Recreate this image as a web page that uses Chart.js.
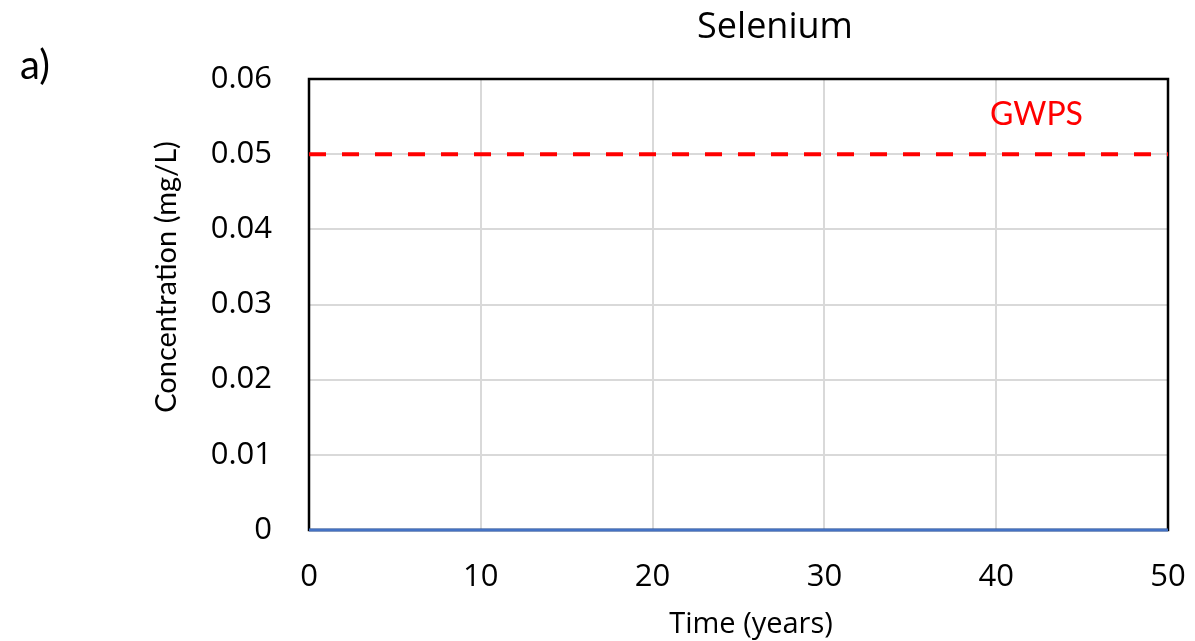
<!DOCTYPE html>
<html>
<head>
<meta charset="utf-8">
<script src="https://cdn.jsdelivr.net/npm/chart.js@4.4.1/dist/chart.umd.min.js"></script>
<style>
  html, body { margin: 0; padding: 0; background: #fff; }
  #conc { display: block; }
</style>
</head>
<body>
<canvas id="conc" width="1195" height="641"></canvas>
<script>
// time axis (years) and modelled selenium concentration (mg/L)
var years = [0, 10, 20, 30, 40, 50];
var selenium = [0, 0, 0, 0, 0, 0];

// groundwater protection standard
var gwpsYears = [0, 50];
var gwpsValue = [0.05, 0.05];

var xTicks = [0, 10, 20, 30, 40, 50];
var yTicks = [0, 0.01, 0.02, 0.03, 0.04, 0.05, 0.06];

function pares(xs, ys) {
    var out = [];
    for (var i = 0; i < xs.length; i++) {
        out.push({ x: xs[i], y: ys[i] });
    }
    return out;
}

// black frame round the plot area, under the data lines
var marco = {
    id: 'marco',
    beforeDatasetsDraw: function (chart) {
        var a = chart.chartArea;
        var ctx = chart.ctx;
        ctx.save();
        ctx.strokeStyle = '#000';
        ctx.lineWidth = 2.5;
        ctx.strokeRect(a.left, a.top, a.right - a.left, a.bottom - a.top);
        ctx.restore();
    }
};

// panel letter, titles and the GWPS label
var textos = {
    id: 'textos',
    afterDraw: function (chart) {
        var ctx = chart.ctx;
        ctx.save();
        ctx.fillStyle = '#000';
        ctx.textBaseline = 'alphabetic';

        ctx.font = '40px Lato';
        ctx.textAlign = 'left';
        ctx.fillText('a)', 20, 79);

        ctx.font = '36px "Open Sans"';
        ctx.textAlign = 'center';
        ctx.fillText('Selenium', 775, 38);

        ctx.font = '29px "Open Sans"';
        ctx.fillText('Time (years)', 751, 633);

        ctx.save();
        ctx.translate(176, 277);
        ctx.rotate(-Math.PI / 2);
        ctx.font = '29px Lato';
        ctx.fillText('Concentration (mg/L)', 0, 0);
        ctx.restore();

        ctx.fillStyle = '#ff0000';
        ctx.font = '32px Lato';
        ctx.textAlign = 'left';
        ctx.fillText('GWPS', 990, 125);
        ctx.restore();
    }
};

var chart_se = new Chart(document.getElementById('conc').getContext('2d'), {
    type: 'line',
    data: {
        datasets: [{
            label: 'Selenium',
            data: pares(years, selenium),
            borderColor: '#4472c4',
            borderWidth: 3,
            pointRadius: 0,
            fill: false,
            clip: false,
        }, {
            label: 'GWPS',
            data: pares(gwpsYears, gwpsValue),
            borderColor: '#ff0000',
            borderWidth: 4,
            borderDash: [17, 16],
            pointRadius: 0,
            fill: false,
        }]
    },
    options: {
        responsive: false,
        animation: false,
        layout: { padding: { left: 0, right: 27, top: 79, bottom: 0 } },
        plugins: {
            legend: { display: false },
            tooltip: { enabled: false },
        },
        scales: {
            x: {
                type: 'linear',
                min: 0,
                max: 50,
                afterFit: function (s) {
                    s.height = 111;
                    s.paddingLeft = 0;
                    s.paddingRight = 0;
                },
                afterBuildTicks: function (s) {
                    s.ticks = xTicks.map(function (v) { return { value: v }; });
                },
                border: { display: false },
                grid: {
                    color: function (c) {
                        return (c.tick.value === 0 || c.tick.value === 50) ? 'rgba(0,0,0,0)' : '#d9d9d9';
                    },
                    lineWidth: 2,
                    drawTicks: false,
                },
                ticks: {
                    color: '#000',
                    padding: 29,
                    maxRotation: 0,
                    font: { family: 'Open Sans', size: 31 },
                },
            },
            y: {
                min: 0,
                max: 0.06,
                afterFit: function (s) {
                    s.width = 309;
                    s.paddingTop = 0;
                    s.paddingBottom = 0;
                },
                afterBuildTicks: function (s) {
                    s.ticks = yTicks.map(function (v) { return { value: v }; });
                },
                border: { display: false },
                grid: {
                    color: function (c) {
                        return (c.index === 0 || c.index === yTicks.length - 1) ? 'rgba(0,0,0,0)' : '#d9d9d9';
                    },
                    lineWidth: 2,
                    drawTicks: false,
                },
                ticks: {
                    color: '#000',
                    padding: 37,
                    font: { family: 'Open Sans', size: 31 },
                    callback: function (v) { return String(+v.toFixed(2)); },
                },
            },
        },
    },
    plugins: [marco, textos],
});
</script>
</body>
</html>
